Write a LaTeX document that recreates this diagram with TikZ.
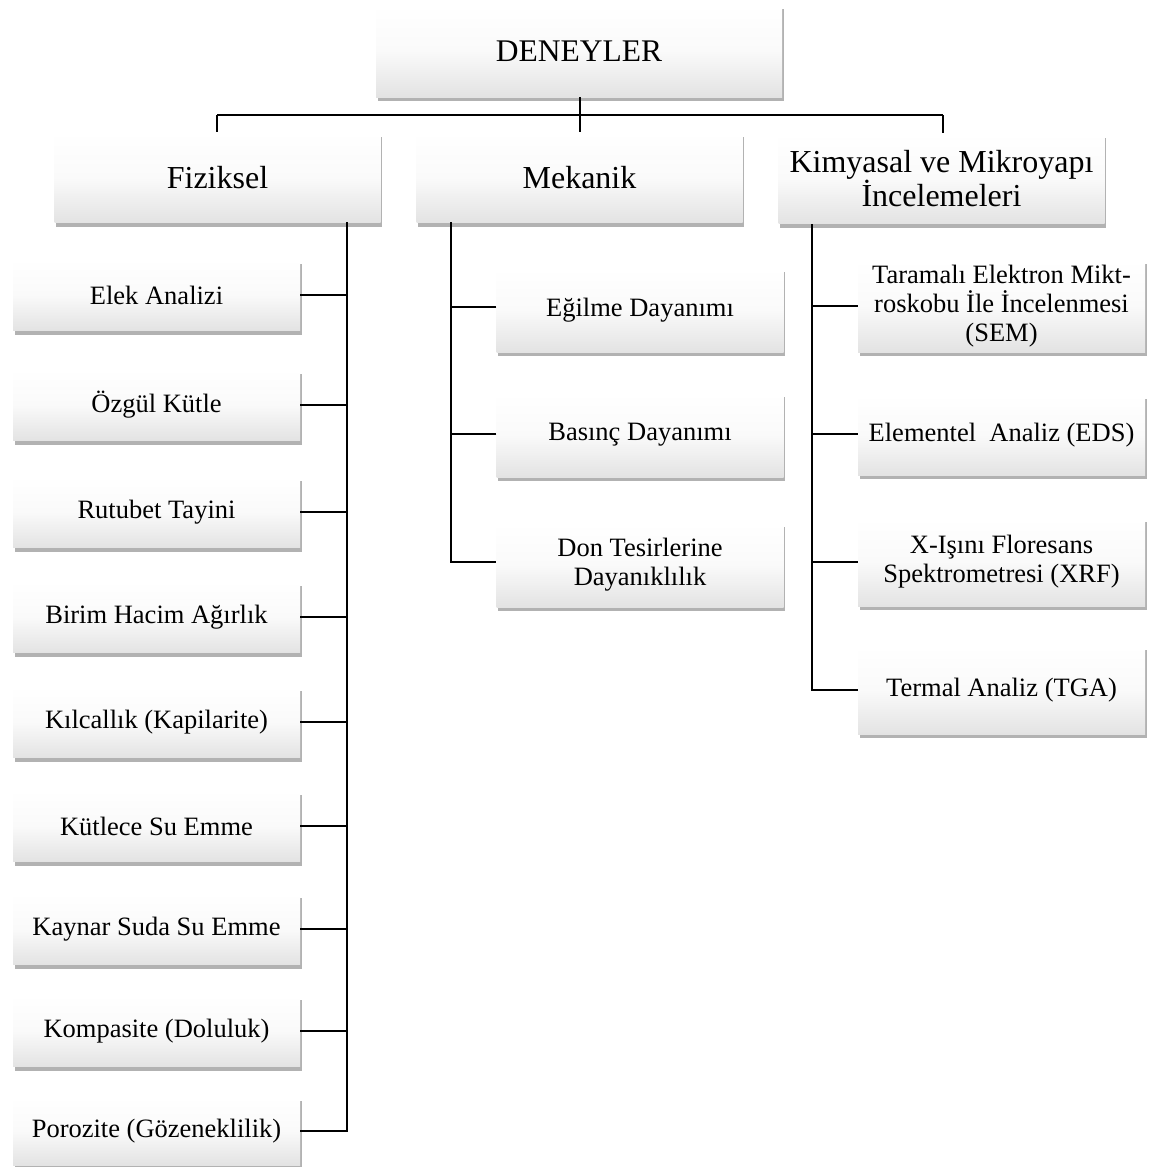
\documentclass[tikz,border=0pt]{standalone}
\usepackage{fontspec}
\setmainfont{Liberation Serif}
\usetikzlibrary{shadows}
\begin{document}
\begin{tikzpicture}[x=1pt,y=-1pt,
  box/.style={draw=none, top color=white, bottom color=gray!22, middle color=white!96!gray,
    drop shadow={shadow xshift=1.5pt, shadow yshift=-4pt, opacity=0.5, fill=gray!80!black},
    align=center, inner sep=0pt, text=black},
  topbox/.style={box, minimum width=406pt, minimum height=92pt, font=\fontsize{31.5}{34}\selectfont},
  midbox/.style={box, minimum width=326pt, minimum height=90pt, font=\fontsize{32}{33}\selectfont},
  leafL/.style={box, minimum width=287pt, minimum height=71pt, font=\fontsize{26.5}{29}\selectfont},
  leafR/.style={box, minimum width=287pt, minimum height=84pt, font=\fontsize{26.5}{29}\selectfont},
  conn/.style={line width=2.4pt, black}]
\useasboundingbox (0,0) rectangle (1160,1167);
% top
\node[topbox] (top) at (579,51) {DENEYLER};
% level 2
\node[midbox] (fiz) at (217.5,177.5) {Fiziksel};
\node[midbox] (mek) at (579.5,177.5) {Mekanik};
\node[midbox] (kim) at (941.5,178.5) {Kimyasal ve Mikroyapı\\İncelemeleri};
% left leaves
\node[leafL] (l1) at (156.5,295) {Elek Analizi};
\node[leafL] (l2) at (156.5,405) {Özgül Kütle};
\node[leafL] (l3) at (156.5,512) {Rutubet Tayini};
\node[leafL] (l4) at (156.5,617) {Birim Hacim Ağırlık};
\node[leafL] (l5) at (156.5,722) {Kılcallık (Kapilarite)};
\node[leafL] (l6) at (156.5,826) {Kütlece Su Emme};
\node[leafL] (l7) at (156.5,929) {Kaynar Suda Su Emme};
\node[leafL] (l8) at (156.5,1031) {Kompasite (Doluluk)};
\node[leafL, minimum height=68pt] (l9) at (156.5,1131) {Porozite (Gözeneklilik)};
% middle leaves
\node[leafR, minimum height=84pt] (m1) at (640,310) {Eğilme Dayanımı};
\node[leafR, minimum height=84pt] (m2) at (640,435) {Basınç Dayanımı};
\node[leafR, minimum height=84pt] (m3) at (640,565) {Don Tesirlerine\\Dayanıklılık};
% right leaves
\node[leafR, minimum height=92pt] (r1) at (1001.5,306) {Taramalı Elektron Mikt-\\roskobu İle İncelenmesi\\(SEM)};
\node[leafR, minimum height=80pt] (r2) at (1001.5,435) {Elementel~ Analiz (EDS)};
\node[leafR, minimum height=88pt] (r3) at (1001.5,562) {X-Işını Floresans\\Spektrometresi (XRF)};
\node[leafR, minimum height=88pt] (r4) at (1001.5,690) {Termal Analiz (TGA)};
% coordinates
\coordinate (hl) at (217,115);
\coordinate (hr) at (943,115);
\coordinate (hm) at (580,115);
\coordinate (tf) at (347,222);
\coordinate (tfb) at (347,1131);
\coordinate (tm) at (451,222);
\coordinate (tmb) at (451,562);
\coordinate (tk) at (812,224);
\coordinate (tkb) at (812,690);
% connectors
\draw[conn] (top.south -| hm) -- (hm);
\draw[conn] (hl) -- (hr);
\draw[conn] (hl) -- (fiz.north -| hl);
\draw[conn] (hm) -- (mek.north -| hm);
\draw[conn] (hr) -- (kim.north -| hr);
\draw[conn] (tf) -- (tfb) -- (l9.east |- tfb);
\foreach \n in {l1,l2,l3,l4,l5,l6,l7,l8}{\draw[conn] (\n.east) -- (\n.east -| tf);}
\draw[conn] (tm) -- (tmb) -- (m3.west |- tmb);
\draw[conn] (m1.west |- 0,307) -- (tm |- 0,307);
\draw[conn] (m2.west |- 0,434) -- (tm |- 0,434);
\draw[conn] (tk) -- (tkb) -- (r4.west |- tkb);
\draw[conn] (r1.west |- 0,306) -- (tk |- 0,306);
\draw[conn] (r2.west |- 0,434) -- (tk |- 0,434);
\draw[conn] (r3.west |- 0,562) -- (tk |- 0,562);
\end{tikzpicture}
\end{document}
